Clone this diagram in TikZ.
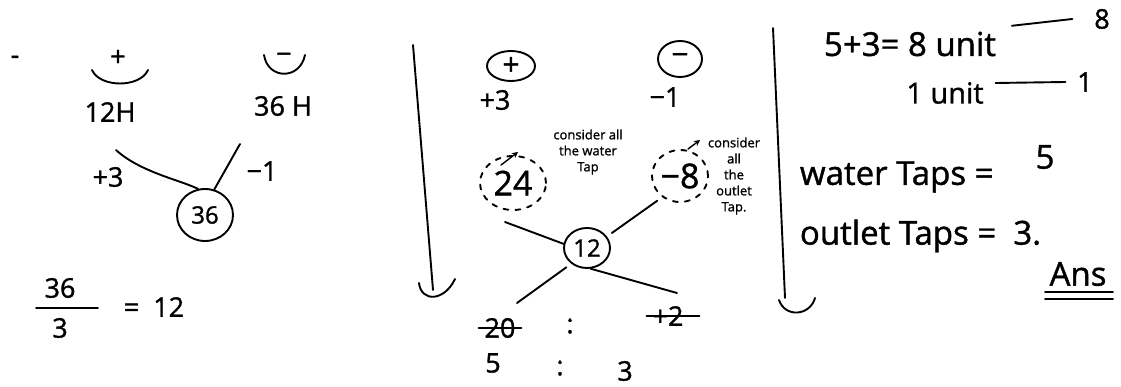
\documentclass[tikz,border=0pt]{standalone}
\usepackage{fontspec}
\setmainfont{Open Sans}[FakeBold=1.2]
\usetikzlibrary{shapes.geometric,arrows.meta}
\begin{document}
\begin{tikzpicture}[x=1pt,y=-1pt,line width=1.9pt,line cap=round,
  txt/.style={font=\fontsize{27}{30}\selectfont,inner sep=1pt},
  big/.style={font=\fontsize{33}{36}\selectfont,inner sep=1pt},
  mid/.style={font=\fontsize{29}{32}\selectfont,inner sep=1pt},
  small/.style={font=\fontsize{13}{16}\selectfont,align=center,inner sep=0pt},
  ring/.style={draw,ellipse,inner sep=0pt,font=\fontsize{24}{28}\selectfont},
  dashring/.style={draw,ellipse,dashed,dash pattern=on 5pt off 7pt,inner sep=0pt,font=\fontsize{34}{38}\selectfont},
  note/.style={-{Stealth[length=6pt,width=6pt]},line width=1.4pt},
  strike/.style={line width=1.9pt}]
\useasboundingbox (0,0) rectangle (1121,387);
% ---- left part
\node[txt] (dash0) at (15,60) {-};
\node[txt] (plus) at (118,58) {+};
\draw (92,70) .. controls (100,88) and (140,88) .. (148,70);
\node[txt] (h12) at (110,112) {12H};
\node[txt] (minus) at (284,58) {−};
\draw (264,55) .. controls (268,80) and (300,80) .. (305,55);
\node[txt] (h36) at (283,106) {36 H};
\node[txt] (p3a) at (108,177) {+3};
\node[txt] (m1a) at (262,171) {−1};
\node[ring,minimum width=56,minimum height=52] (c36) at (205,215) {36};
\coordinate (a1) at (116,150);
\coordinate (a2) at (240,144);
\draw (a1) .. controls (140,172) and (180,180) .. (c36.105);
\draw (a2) -- (c36.70);
\node[txt] (n36) at (60,288) {36};
\node[txt] (n3) at (60,328) {3};
\draw (36,308) -- (98,308);
\node[txt] (eq12) at (154,307) {=\ \ 12};
% ---- middle part
\coordinate (v1t) at (413,45);
\coordinate (v1b) at (433,290);
\draw (v1t) -- (v1b);
\draw (419,283) .. controls (421,302) and (444,302) .. (455,279);
\node[ring,minimum width=48,minimum height=30,font=\fontsize{30}{32}\selectfont] (cplus) at (511,66) {+};
\node[txt] (p3b) at (495,100) {+3};
\node[ring,minimum width=44,minimum height=36,font=\fontsize{30}{32}\selectfont] (cminus) at (680,59) {−};
\node[txt] (m1b) at (665,97) {−1};
\node[dashring,minimum width=66,minimum height=54] (c24) at (513,183) {24};
\node[small] (t24) at (588,152) {consider all\\the water\\Tap};
\coordinate (e24) at (518,152);
\draw[note] ([shift={(-12,10)}]c24.north) -- (e24);
\node[dashring,minimum width=56,minimum height=52] (c8) at (680,176) {−8};
\node[small] (t8) at (734,176) {consider\\all\\the\\outlet\\Tap.};
\coordinate (e8) at (700,140);
\draw[note] ([shift={(8,0)}]c8.north) -- (e8);
\node[ring,minimum width=46,minimum height=40] (c12) at (587,248) {12};
\coordinate (x1) at (505,222);
\coordinate (x2) at (677,293);
\coordinate (x3) at (517,303);
\draw (x1) -- (c12.170);
\draw (c12.-80) -- (x2);
\draw[shorten <=6pt,shorten >=6pt] (c12.30) -- (c8.230);
\draw[shorten <=6pt] (c12.225) -- (x3);
\node[txt] (n20) at (500,328) {20};
\draw[strike] ([xshift=-4pt]n20.west) -- ([xshift=4pt]n20.east);
\node[txt] (col1) at (570,326) {:};
\node[txt] (n2) at (668,316) {+2};
\draw[strike] ([xshift=-4pt]n2.west) -- ([xshift=14pt]n2.east);
\node[txt] (n5) at (493,363) {5};
\node[txt] (col2) at (560,368) {:};
\node[txt] (n3b) at (625,371) {3};
% ---- right part
\coordinate (v2t) at (773,28);
\coordinate (v2b) at (785,298);
\draw (v2t) -- (v2b);
\draw (779,300) .. controls (785,318) and (810,316) .. (815,298);
\node[big,anchor=west] (eq8) at (822,44) {5+3= 8 unit};
\node[txt] (r8) at (1102,19) {8};
\draw ([xshift=14pt]eq8.north east) ++(0,-4) -- ([xshift=-20pt]r8.west);
\node[mid] (u1) at (945,93) {1 unit};
\node[txt] (r1) at (1085,82) {1};
\draw ([xshift=10pt]u1.east) ++(0,-10) -- ([xshift=-10pt]r1.west);
\node[big,anchor=west] (wt) at (798,177) {water Taps =};
\node[big] (w5) at (1045,157) {5};
\node[big,anchor=west] (ot) at (798,236) {outlet Taps =\ \ 3.};
\node[big] (ans) at (1078,274) {Ans};
\draw (1045,292) -- (1113,292);
\draw (1045,299) -- (1113,299);
\end{tikzpicture}
\end{document}
